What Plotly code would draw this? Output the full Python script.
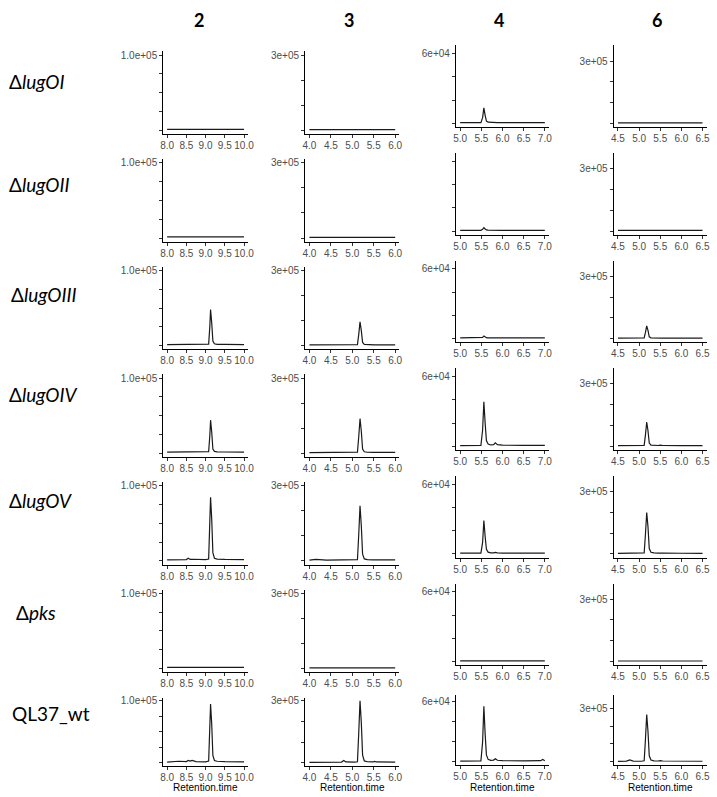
import plotly.graph_objects as go

# ---------------- data ----------------
compounds = ["2", "3", "4", "6"]
row_labels = ["Δ<i>lugOI</i>", "Δ<i>lugOII</i>", "Δ<i>lugOIII</i>", "Δ<i>lugOIV</i>",
              "Δ<i>lugOV</i>", "Δ<i>pks</i>", "QL37_wt"]
x_title = "Retention.time"

# retention time sample points per compound
rt_2 = [8.00, 8.30, 8.50, 8.55, 8.60, 8.65, 8.75, 9.00, 9.08, 9.11, 9.13, 9.16, 9.19, 9.23, 9.30, 9.50, 10.00]
rt_3 = [4.00, 4.15, 4.40, 4.75, 4.80, 4.85, 5.05, 5.12, 5.15, 5.18, 5.21, 5.24, 5.28, 5.35, 5.48, 5.52, 5.56, 6.00]
rt_4 = [5.00, 5.30, 5.49, 5.53, 5.56, 5.59, 5.62, 5.66, 5.72, 5.79, 5.83, 5.88, 6.00, 6.50, 6.90, 6.95, 7.00]
rt_6 = [4.50, 4.70, 4.78, 4.86, 5.05, 5.12, 5.15, 5.18, 5.21, 5.24, 5.28, 5.35, 5.45, 5.50, 5.56, 6.00, 6.50]

# intensities, one list per strain (rows: lugOI, lugOII, lugOIII, lugOIV, lugOV, pks, wt)
int_2 = [
    [1500, 1500, 1500, 1500, 1500, 1500, 1500, 1500, 1500, 1500, 1500, 1500, 1500, 1500, 1500, 1500, 1500],
    [1500, 1500, 1500, 1500, 1500, 1500, 1500, 1500, 1500, 1500, 1500, 1500, 1500, 1500, 1500, 1500, 1500],
    [1500, 1500, 1500, 1600, 1500, 1600, 1500, 1500, 2000, 25000, 48000, 30000, 6000, 2500, 1800, 1600, 1500],
    [1500, 1800, 1600, 2000, 1800, 2000, 1700, 1600, 2200, 23000, 44000, 28000, 5500, 2500, 1900, 1700, 1600],
    [1500, 1800, 1800, 3500, 2000, 2200, 1800, 1800, 2500, 45000, 84500, 55000, 11000, 3500, 2500, 2000, 1800],
    [1500, 1500, 1500, 1500, 1500, 1500, 1500, 1500, 1500, 1800, 2300, 1800, 1500, 1500, 1500, 1500, 1500],
    [1500, 2800, 2200, 4000, 3000, 4200, 2200, 1800, 3000, 50000, 95000, 62000, 12000, 4000, 2800, 2200, 1800],
]
int_3 = [
    [3000, 3000, 3000, 3000, 3000, 3000, 3000, 3000, 3000, 3000, 3000, 3000, 3000, 3000, 3000, 3000, 3000, 3000],
    [3000, 3000, 3000, 3000, 3000, 3000, 3000, 3000, 3000, 3000, 3000, 3000, 3000, 3000, 3000, 3000, 3000, 3000],
    [3000, 3000, 3000, 3000, 3200, 3000, 3000, 4000, 45000, 95000, 60000, 13000, 5000, 3800, 3500, 3500, 3300, 3000],
    [3000, 3000, 3000, 3200, 3800, 3200, 3200, 4500, 66000, 138000, 88000, 17000, 6000, 4200, 4000, 5000, 4000, 3500],
    [3000, 6000, 3500, 3500, 4500, 3500, 3500, 5000, 105000, 220000, 140000, 27000, 8000, 5000, 4500, 5000, 4500, 4000],
    [3000, 3000, 3000, 3000, 3000, 3000, 3000, 3000, 3000, 3500, 3200, 3000, 3000, 3000, 3000, 3000, 3000, 3000],
    [3000, 3200, 3200, 4500, 12000, 5000, 4000, 6000, 145000, 300000, 195000, 38000, 10000, 6000, 5000, 8000, 5000, 4000],
]
int_4 = [
    [700, 700, 700, 5000, 13400, 7000, 2000, 1100, 900, 800, 900, 800, 700, 700, 700, 700, 700],
    [700, 700, 700, 1500, 3000, 1800, 1000, 800, 700, 700, 700, 700, 700, 700, 700, 700, 700],
    [700, 700, 700, 1200, 2400, 1500, 900, 700, 700, 700, 700, 700, 700, 700, 700, 700, 700],
    [700, 700, 800, 14000, 38400, 20000, 5000, 2000, 1200, 1500, 3000, 1500, 1000, 800, 800, 800, 800],
    [700, 700, 800, 10000, 28800, 15000, 4000, 1600, 1000, 1000, 1300, 1000, 800, 700, 700, 700, 700],
    [700, 700, 700, 700, 700, 700, 700, 700, 700, 700, 700, 700, 700, 700, 700, 700, 700],
    [700, 900, 1000, 20000, 55500, 28000, 7000, 2500, 1500, 1800, 3200, 1600, 1200, 1000, 1200, 2500, 1200],
]
int_6 = [
    [3000, 3000, 3000, 3000, 3000, 3000, 3000, 3000, 3000, 3000, 3000, 3000, 3000, 3000, 3000, 3000, 3000],
    [3000, 3000, 3000, 3000, 3000, 3000, 3000, 3000, 3000, 3000, 3000, 3000, 3000, 3000, 3000, 3000, 3000],
    [3000, 3000, 3000, 3000, 3000, 4000, 30000, 62000, 40000, 9000, 4500, 3500, 3200, 3200, 3100, 3000, 3000],
    [3000, 3200, 5000, 3300, 3200, 4500, 55000, 117000, 75000, 16000, 6000, 4200, 4000, 6000, 4000, 3200, 3000],
    [3000, 3200, 4500, 3300, 3200, 5000, 95000, 199000, 130000, 26000, 8000, 5000, 4500, 5000, 4500, 3500, 3200],
    [3000, 3000, 3000, 3000, 3000, 3000, 3000, 3000, 3000, 3000, 3000, 3000, 3000, 3000, 3000, 3000, 3000],
    [3000, 4000, 11000, 4500, 3500, 6000, 125000, 264000, 170000, 34000, 10000, 6000, 5000, 7000, 5000, 3800, 3500],
]

# tick values / labels per compound
xtick_2 = [8.0, 8.5, 9.0, 9.5, 10.0]
xtick_3 = [4.0, 4.5, 5.0, 5.5, 6.0]
xtick_4 = [5.0, 5.5, 6.0, 6.5, 7.0]
xtick_6 = [4.5, 5.0, 5.5, 6.0, 6.5]
ytick_2 = [0, 25000, 50000, 75000, 100000]
ytick_3 = [0, 100000, 200000, 300000]
ytick_4 = [0, 20000, 40000, 60000]
ytick_6 = [0, 100000, 200000, 300000]
ylabel_2 = "1.0e+05"
ylabel_3 = "3e+05"
ylabel_4 = "6e+04"
ylabel_6 = "3e+05"

# ---------------- layout / style ----------------
W, H = 717, 797
rts = [rt_2, rt_3, rt_4, rt_6]
ints = [int_2, int_3, int_4, int_6]
xticks = [xtick_2, xtick_3, xtick_4, xtick_6]
yticks = [ytick_2, ytick_3, ytick_4, ytick_6]
ylabels = [ylabel_2, ylabel_3, ylabel_4, ylabel_6]

col_px = [(162.3, 248.0), (306.0, 401.5), (458.7, 553.0), (618.5, 712.7)]
col_dy = [0, 0, -6, -6]
x_ranges = [(7.9, 10.1), (3.9, 6.1), (4.9, 7.1), (4.4, 6.6)]
y_ranges = [(-5000, 105000), (-15000, 315000), (-3200, 67100), (-17900, 375000)]
header_x = [198, 350, 502, 662]
label_y = [80, 183, 293, 393, 500, 612, 713]
label_x = [4, 4, 6, 4, 4, 11, 7]

TICKFONT = dict(family="Liberation Sans, Arial, sans-serif", size=10, color="#4D4D4D")

fig = go.Figure()
layout = dict(
    width=W, height=H, margin=dict(l=0, r=0, t=0, b=0),
    paper_bgcolor="white", plot_bgcolor="white", showlegend=False,
)
annotations = []

for r in range(7):
    for c in range(4):
        k = r * 4 + c + 1
        xa = "x" if k == 1 else f"x{k}"
        ya = "y" if k == 1 else f"y{k}"
        fig.add_trace(go.Scatter(
            x=rts[c], y=ints[c][r], mode="lines", xaxis=xa, yaxis=ya,
            line=dict(color="#1a1a1a", width=1.2), hoverinfo="skip",
        ))
        if r < 6:
            top = 49.5 + r * 107.9 + col_dy[c]
            bot = top + (83 if c < 2 else 82)
        else:
            top, bot = (697.5, 766.0) if c < 2 else (694.5, 765.0)
        x0, x1 = col_px[c]
        ytext = [""] * (len(yticks[c]) - 1) + [ylabels[c]]
        if r == 1 and c == 2:
            ytext = [""] * len(yticks[c])
        layout["xaxis" if k == 1 else f"xaxis{k}"] = dict(
            domain=[x0 / W, x1 / W], anchor=ya, range=list(x_ranges[c]),
            tickvals=xticks[c], ticktext=[f"{v:.1f}" for v in xticks[c]],
            ticks="outside", ticklen=3, tickcolor="#333333", tickwidth=1,
            ticklabelstandoff=-1,
            showline=True, linecolor="black", linewidth=1.1,
            showgrid=False, zeroline=False, tickfont=TICKFONT, fixedrange=True,
        )
        layout["yaxis" if k == 1 else f"yaxis{k}"] = dict(
            domain=[1 - bot / H, 1 - top / H], anchor=xa, range=list(y_ranges[c]),
            tickvals=yticks[c], ticktext=ytext,
            ticks="outside", ticklen=3, tickcolor="#333333", tickwidth=1,
            showline=True, linecolor="black", linewidth=1.1,
            showgrid=False, zeroline=False, tickfont=TICKFONT, fixedrange=True,
        )
        if r == 6:
            annotations.append(dict(
                x=(x0 + x1) / 2 / W, y=1 - 787.5 / H, xref="paper", yref="paper",
                text=x_title, showarrow=False, xanchor="center", yanchor="middle",
                font=dict(family="Liberation Sans, Arial, sans-serif", size=10, color="black"),
            ))

for c, name in enumerate(compounds):
    annotations.append(dict(
        x=header_x[c] / W, y=1 - 18 / H, xref="paper", yref="paper",
        text=f"<b>{name}</b>", showarrow=False, xanchor="center", yanchor="middle",
        font=dict(family="Lato, Open Sans, sans-serif", size=18, color="black"),
    ))

for r, lab in enumerate(row_labels):
    annotations.append(dict(
        x=label_x[r] / W, y=1 - label_y[r] / H, xref="paper", yref="paper",
        text=lab, showarrow=False, xanchor="left", yanchor="middle",
        font=dict(family="Lato, Open Sans, sans-serif", size=19, color="black"),
    ))

layout["annotations"] = annotations
fig.update_layout(**layout)
fig.write_html("out.html")
